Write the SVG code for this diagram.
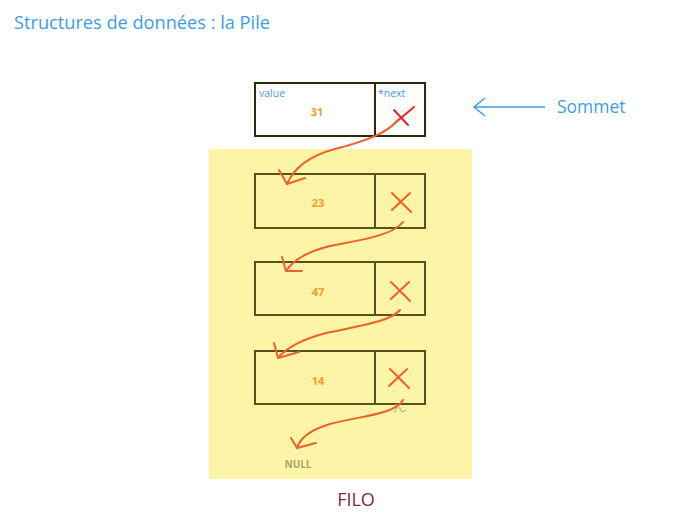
<svg xmlns="http://www.w3.org/2000/svg" width="695" height="521" viewBox="0 0 695 521">
<style>
.box{fill:none;stroke:#2a2a12;stroke-width:2}
.ybox{fill:none;stroke:#55531c;stroke-width:2}
.num{font-family:"Open Sans","Liberation Sans",sans-serif;font-weight:bold;font-size:11px;fill:#f39a2c;text-anchor:middle}
.lbl{font-family:"Open Sans","Liberation Sans",sans-serif;font-size:10.5px;fill:#4a9ae6}
.x{stroke:#f0602a;stroke-width:2;fill:none;stroke-linecap:round}
.cv{stroke:#f0602a;stroke-width:2;fill:none;stroke-linecap:round;stroke-linejoin:round}
</style>
<rect width="695" height="521" fill="#ffffff"/>
<text x="14" y="29" font-family="Open Sans, Liberation Sans, sans-serif" font-size="18.2" fill="#3d9cec">Structures de données : la Pile</text>
<rect x="209" y="149" width="263" height="330" fill="#fcf4a6"/>

<g id="node-31">
<rect class="box" x="255" y="83" width="170" height="53"/>
<line class="box" x1="375" y1="83" x2="375" y2="136"/>
<text class="lbl" x="259" y="97">value</text>
<text class="lbl" x="378" y="97">*next</text>
<text class="num" x="317" y="116">31</text>
<path d="M394 110 L408 125 M414 107 L395 123" stroke="#e8242a" stroke-width="2" fill="none" stroke-linecap="round"/>
</g>

<g id="node-23">
<rect class="ybox" x="255" y="174" width="170" height="54"/>
<line class="ybox" x1="375" y1="174" x2="375" y2="228"/>
<text class="num" x="318" y="207">23</text>
<path class="x" d="M392 193 L411 212 M410 193 L392 210"/>
</g>

<g id="node-47">
<rect class="ybox" x="255" y="262" width="170" height="53"/>
<line class="ybox" x1="375" y1="262" x2="375" y2="315"/>
<text class="num" x="318" y="296">47</text>
<path class="x" d="M391 282 L410 301 M409 282 L391 299"/>
</g>

<g id="node-14">
<rect class="ybox" x="255" y="351" width="170" height="53"/>
<line class="ybox" x1="375" y1="351" x2="375" y2="404"/>
<text class="num" x="318" y="385">14</text>
<path class="x" d="M390 369 L409 388 M407 369 L389 386"/>
</g>

<g id="null">
<text x="298" y="468" font-family="Open Sans, Liberation Sans, sans-serif" font-weight="bold" font-size="10" fill="#a8a46a" text-anchor="middle">NULL</text>
<path d="M396 404 q2 6 -2 8 M399 407 l3 5 l4 -2" stroke="#b8b488" stroke-width="1.2" fill="none"/>
</g>

<g id="sommet">
<line x1="475" y1="107" x2="545" y2="107" stroke="#3d9cec" stroke-width="1.5"/>
<path d="M485 98 L474 107 L485 116" stroke="#3d9cec" stroke-width="1.5" fill="none"/>
<text x="557" y="113" font-family="Open Sans, Liberation Sans, sans-serif" font-size="17.5" fill="#3d9cec">Sommet</text>
</g>

<g id="connectors">
<path class="cv" d="M398 120 C388 132 370 140 335 149 C305 157 293 170 287 184"/>
<path class="cv" d="M279 170 L287 184 L305 178"/>
<path class="cv" d="M403 222 C392 236 360 240 330 246 C305 252 292 262 286 271"/>
<path class="cv" d="M282 257 L286 271 L302 271"/>
<path class="cv" d="M400 310 C390 322 358 326 326 333 C300 340 286 348 278 358"/>
<path class="cv" d="M274 343 L278 358 L299 352"/>
<path class="cv" d="M403 400 C396 414 360 416 330 424 C310 430 300 438 297 448"/>
<path class="cv" d="M291 438 L297 448 L316 443"/>
</g>

<text x="356" y="506" font-family="Open Sans, Liberation Sans, sans-serif" font-size="18" fill="#7a2c40" text-anchor="middle">FILO</text>
</svg>
